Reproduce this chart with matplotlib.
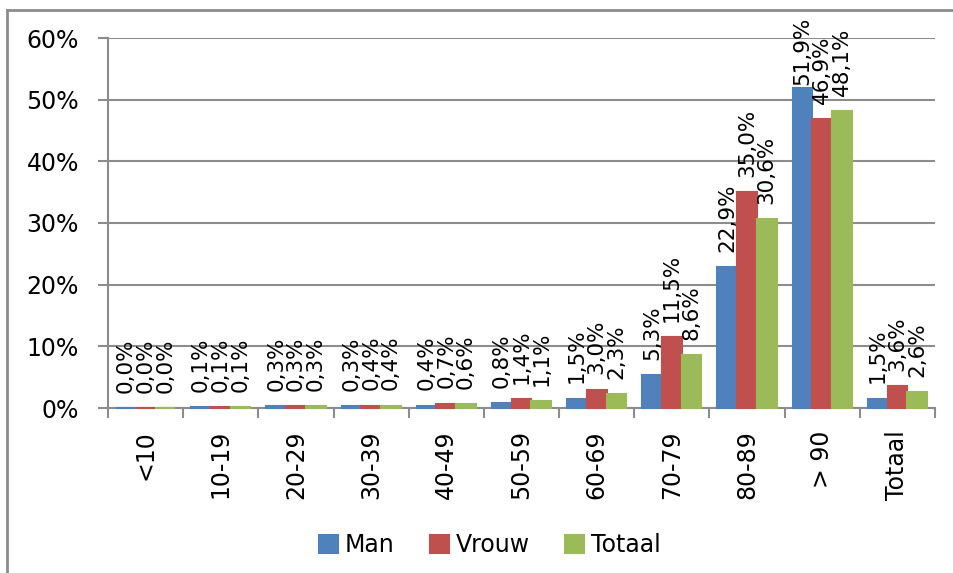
import matplotlib
matplotlib.use("Agg")
import matplotlib.pyplot as plt
from matplotlib.lines import Line2D
from matplotlib.ticker import FuncFormatter, FixedLocator
import numpy as np

categories = ["<10", "10-19", "20-29", "30-39", "40-49", "50-59", "60-69", "70-79", "80-89", "> 90", "Totaal"]
man = [0.0, 0.1, 0.3, 0.3, 0.4, 0.8, 1.5, 5.3, 22.9, 51.9, 1.5]
vrouw = [0.0, 0.1, 0.3, 0.4, 0.7, 1.4, 3.0, 11.5, 35.0, 46.9, 3.6]
totaal = [0.0, 0.1, 0.3, 0.4, 0.6, 1.1, 2.3, 8.6, 30.6, 48.1, 2.6]
series = [("Man", man, "#4F81BD"), ("Vrouw", vrouw, "#C0504D"), ("Totaal", totaal, "#9BBB59")]
yticks = [0, 10, 20, 30, 40, 50, 60]

plt.rcParams['font.family'] = ['DejaVu Sans']
fig = plt.figure(figsize=(9.54, 5.73), dpi=100)
W, H = 954, 573
ax = fig.add_axes([108 / W, 1 - 408 / H, (935 - 108) / W, (408 - 38) / H])

# chart frame
fig.add_artist(Line2D([7 / W, 1.0], [1 - 10 / H, 1 - 10 / H], transform=fig.transFigure, color="#8c8c8c", lw=2))
fig.add_artist(Line2D([7 / W, 7 / W], [0.0, 1 - 10 / H], transform=fig.transFigure, color="#8c8c8c", lw=2))

x = np.arange(len(categories))
bw = 0.262
labels = []
for i, (name, vals, col) in enumerate(series):
    pos = x + (i - 1) * bw
    bars = ax.bar(pos, vals, width=bw, color=col, edgecolor=col, linewidth=1.5, label=name, zorder=3)
    for b in bars:
        b.set_clip_on(False)
    for p, v in zip(pos, vals):
        t = ax.annotate(f"{v:.1f}%".replace(".", ","), (p, v), xytext=(0, 11), textcoords="offset points",
                        rotation=90, ha="center", va="bottom", fontsize=15.5, zorder=4,
                        annotation_clip=False)
        labels.append(t)

ax.set_xlim(-0.5, len(categories) - 0.5)
ax.set_ylim(0, 60)
ax.set_yticks(yticks)
ax.yaxis.set_major_formatter(FuncFormatter(lambda v, p: f"{v:.0f}%"))
ax.set_xticks(x)
ax.set_xticklabels(categories, rotation=90, fontsize=17)
ax.xaxis.set_minor_locator(FixedLocator(np.arange(-0.5, len(categories), 1.0)))
ax.tick_params(axis="x", which="major", length=0, pad=16)
ax.tick_params(axis="x", which="minor", length=7, width=1.5, color="#8c8c8c")
ax.tick_params(axis="y", length=7, width=1.5, color="#8c8c8c", labelsize=17, pad=14)
ax.grid(axis="y", color="#8c8c8c", lw=1.5, zorder=0)
for s in ["top", "right"]:
    ax.spines[s].set_visible(False)
for s in ["left", "bottom"]:
    ax.spines[s].set_color("#8c8c8c")
    ax.spines[s].set_linewidth(1.5)

fig.legend(loc="center", bbox_to_anchor=(490 / W, 1 - 545 / H), ncol=3, frameon=False, fontsize=17,
           handlelength=0.8, handleheight=0.8, handletextpad=0.3, columnspacing=1.5)

# keep data labels inside the chart area (like the original)
fig.canvas.draw()
r = fig.canvas.get_renderer()
limit = H - 17
for t in labels:
    bb = t.get_window_extent(r)
    if bb.y1 > limit:
        dx, dy = t.xyann
        t.xyann = (dx, dy - (bb.y1 - limit) * 72 / fig.dpi)

fig.savefig("out.png", dpi=100)
